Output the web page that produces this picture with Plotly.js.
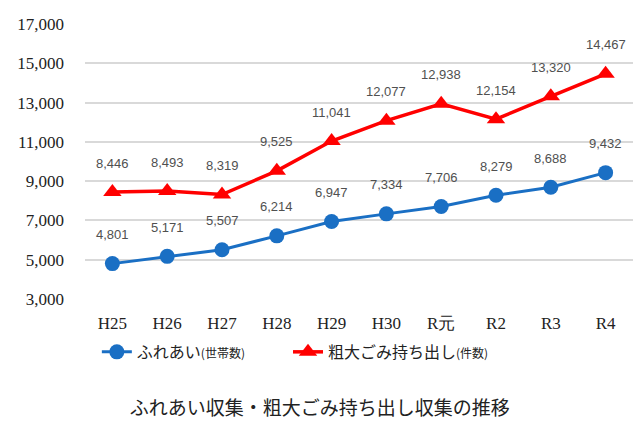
<!DOCTYPE html>
<html>
<head>
<meta charset="utf-8">
<script src="https://cdn.plot.ly/plotly-3.0.1.min.js"></script>
<style>html,body{margin:0;padding:0;background:#fff;}#chart{width:633px;height:423px;}</style>
</head>
<body>
<div id="chart"></div>
<script>
const categories = ['H25','H26','H27','H28','H29','H30','R元','R2','R3','R4'];
const fureai = [4801,5171,5507,6214,6947,7334,7706,8279,8688,9432];
const sodai = [8446,8493,8319,9525,11041,12077,12938,12154,13320,14467];
const seriesNames = ['ふれあい<span style="font-size:12px">(世帯数)</span>', '粗大ごみ持ち出し<span style="font-size:12px">(件数)</span>'];
const titleText = 'ふれあい収集・粗大ごみ持ち出し収集の推移';

const blue = '#1a6fc4', red = '#ff0000';
const traces = [
  {x: categories, y: fureai, name: seriesNames[0], type: 'scatter', mode: 'lines+markers', legend: 'legend',
   line: {color: blue, width: 3}, marker: {color: blue, size: 15, symbol: 'circle'}},
  {x: categories, y: sodai, name: seriesNames[1], type: 'scatter', mode: 'lines+markers', legend: 'legend2',
   line: {color: red, width: 3.5}, marker: {color: red, size: 16, symbol: 'triangle-up'}}
];
const fmt = v => v.toLocaleString('en-US');
const annotations = [];
[fureai, sodai].forEach(arr => arr.forEach((v, i) => annotations.push({
  x: categories[i], y: v, xref: 'x', yref: 'y', text: fmt(v), showarrow: false,
  yshift: 29, yanchor: 'middle', font: {family: 'Liberation Sans, Arial, sans-serif', size: 13, color: '#505050'}
})));

const legendFont = {family: 'Noto Sans CJK JP, sans-serif', size: 16, color: '#222'};
const layout = {
  width: 633, height: 423,
  margin: {l: 85, r: 0, t: 24, b: 124},
  paper_bgcolor: '#fff', plot_bgcolor: '#fff',
  showlegend: true,
  legend: {orientation: 'h', x: 0.153, xref: 'container', xanchor: 'left', y: 0.168, yref: 'container', yanchor: 'middle', font: legendFont},
  legend2: {orientation: 'h', x: 0.455, xref: 'container', xanchor: 'left', y: 0.168, yref: 'container', yanchor: 'middle', font: legendFont},
  title: {text: titleText, x: 0.505, xref: 'container', xanchor: 'center', y: 0.035, yref: 'container', yanchor: 'middle',
    font: {family: 'Noto Sans CJK JP, sans-serif', size: 19, color: '#222'}},
  xaxis: {type: 'category', range: [-0.5, 9.5], showgrid: false, zeroline: false, showline: false, ticks: '',
    ticklabelstandoff: 12,
    tickfont: {family: 'Liberation Serif, serif', size: 17, color: '#222'}},
  yaxis: {range: [3000, 17000], tick0: 3000, dtick: 2000, tickformat: ',', showgrid: true,
    gridcolor: '#d9d9d9', gridwidth: 2, zeroline: false, showline: false, ticks: '',
    ticklabelstandoff: 20,
    tickfont: {family: 'Liberation Serif, serif', size: 17, color: '#222'}},
  annotations: annotations
};
Plotly.newPlot('chart', traces, layout, {displayModeBar: false, staticPlot: true});
</script>
</body>
</html>
